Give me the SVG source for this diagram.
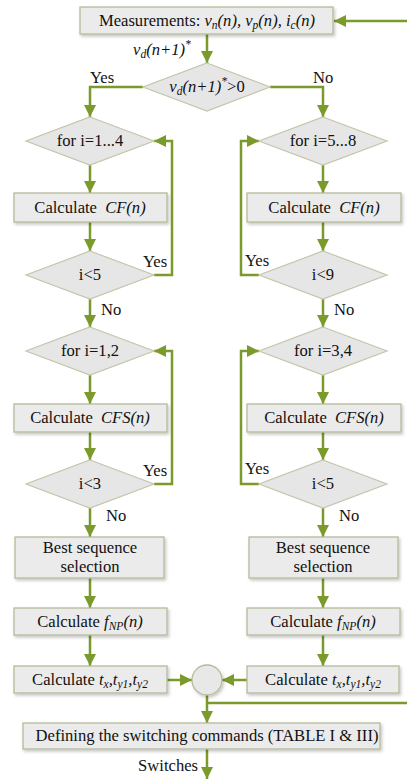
<svg xmlns="http://www.w3.org/2000/svg" width="407" height="781" viewBox="0 0 407 781" font-family="Liberation Serif, Times New Roman, serif" font-size="16.6">
<defs>
<marker id="ah" viewBox="0 0 12 12" markerWidth="12" markerHeight="12" refX="12" refY="6" orient="auto" markerUnits="userSpaceOnUse">
<path d="M0,0 L12,6 L0,12 z" fill="#7a9a2b"/>
</marker>
<filter id="sh" x="-10%" y="-20%" width="125%" height="160%">
<feDropShadow dx="1.5" dy="2" stdDeviation="1.5" flood-color="#000" flood-opacity="0.22"/>
</filter>
</defs>
<style>
.box{fill:#ebebeb;stroke:#b6ba98;stroke-width:1.3;filter:url(#sh)}
.dia{fill:#e6e6e6;stroke:#c3c6aa;stroke-width:1.2}
text{fill:#111}
.c{text-anchor:middle}
.i{font-style:italic}
.ln{fill:none;stroke:#7a9a2b;stroke-width:2.5}
.ar{marker-end:url(#ah)}
</style>
<g id="connectors">
<path class="ln ar" d="M407,21 H334"/>
<path class="ln ar" d="M207,34 V63"/>
<path class="ln ar" d="M143,87 H90 V117"/>
<path class="ln ar" d="M270,87 H323 V117"/>
<path class="ln ar" d="M90,165 V193"/>
<path class="ln ar" d="M90,222 V251"/>
<path class="ln ar" d="M154,275 H172 V141 H154"/>
<path class="ln ar" d="M90,299 V327"/>
<path class="ln ar" d="M90,375 V404"/>
<path class="ln ar" d="M90,432 V460"/>
<path class="ln ar" d="M154,484 H172 V351 H154"/>
<path class="ln ar" d="M90,508 V537"/>
<path class="ln ar" d="M90,578 V608"/>
<path class="ln ar" d="M90,635 V666"/>
<path class="ln ar" d="M323,165 V193"/>
<path class="ln ar" d="M323,222 V251"/>
<path class="ln ar" d="M259,275 H241 V141 H259"/>
<path class="ln ar" d="M323,299 V327"/>
<path class="ln ar" d="M323,375 V404"/>
<path class="ln ar" d="M323,432 V460"/>
<path class="ln ar" d="M259,484 H241 V351 H259"/>
<path class="ln ar" d="M323,508 V537"/>
<path class="ln ar" d="M323,578 V608"/>
<path class="ln ar" d="M323,635 V666"/>
<path class="ln ar" d="M167,680 H192"/>
<path class="ln ar" d="M247,680 H222"/>
<path class="ln ar" d="M207,695 V723"/>
<path class="ln" d="M207,703 H407"/>
<path class="ln ar" d="M207,749 V779"/>
<text class="i" x="133" y="55">v<tspan font-size="11.5" dy="3">d</tspan><tspan dy="-3">(n+1)</tspan><tspan font-size="11.5" dy="-7">*</tspan></text>
<text x="90" y="83">Yes</text>
<text x="313" y="83">No</text>
<text x="143" y="267">Yes</text>
<text x="245" y="266">Yes</text>
<text x="101" y="315">No</text>
<text x="334" y="315">No</text>
<text x="143" y="476">Yes</text>
<text x="245" y="474">Yes</text>
<text x="106" y="521">No</text>
<text x="339" y="521">No</text>
<text x="198" y="771" text-anchor="end">Switches</text>
</g>
<g id="measure">
<rect class="box" x="80" y="7" width="253" height="27"/>
<text class="c" x="207" y="26">Measurements: <tspan class="i">v<tspan font-size="11.5" dy="3">n</tspan><tspan dy="-3">(n), v</tspan><tspan font-size="11.5" dy="3">p</tspan><tspan dy="-3">(n), i</tspan><tspan font-size="11.5" dy="3">c</tspan><tspan dy="-3">(n)</tspan></tspan></text>
</g>
<g id="decision0">
<polygon class="dia" points="207,63 270,87 207,111 143,87"/>
<text class="c i" x="207" y="92">v<tspan font-size="11.5" dy="3">d</tspan><tspan dy="-3">(n+1)</tspan><tspan font-size="11.5" dy="-7">*</tspan><tspan font-style="normal" dy="7">&gt;0</tspan></text>
</g>
<g id="for1">
<polygon class="dia" points="90,117 154,141 90,165 26,141"/>
<text class="c" x="90" y="146">for i=1...4</text>
</g>
<g id="cf1">
<rect class="box" x="14" y="193" width="153" height="29"/>
<text class="c" x="90" y="213">Calculate <tspan class="i" dx="4">CF(n)</tspan></text>
</g>
<g id="lt5a">
<polygon class="dia" points="90,251 154,275 90,299 26,275"/>
<text class="c" x="90" y="280">i&lt;5</text>
</g>
<g id="for12">
<polygon class="dia" points="90,327 154,351 90,375 26,351"/>
<text class="c" x="90" y="356">for i=1,2</text>
</g>
<g id="cfs1">
<rect class="box" x="14" y="404" width="153" height="28"/>
<text class="c" x="90" y="423">Calculate <tspan class="i" dx="4">CFS(n)</tspan></text>
</g>
<g id="lt3">
<polygon class="dia" points="90,460 154,484 90,508 26,484"/>
<text class="c" x="90" y="489">i&lt;3</text>
</g>
<g id="best1">
<rect class="box" x="15" y="537" width="149" height="41"/>
<text class="c" x="90" y="553">Best sequence</text>
<text class="c" x="90" y="572">selection</text>
</g>
<g id="fnp1">
<rect class="box" x="14" y="608" width="153" height="27"/>
<text class="c" x="90" y="627">Calculate <tspan class="i">f<tspan font-size="11.5" dy="3">NP</tspan><tspan dy="-3">(n)</tspan></tspan></text>
</g>
<g id="txy1">
<rect class="box" x="14" y="666" width="153" height="27"/>
<text class="c" x="90" y="685">Calculate <tspan class="i">t<tspan font-size="11.5" dy="3">x</tspan><tspan dy="-3">,t</tspan><tspan font-size="11.5" dy="3">y1</tspan><tspan dy="-3">,t</tspan><tspan font-size="11.5" dy="3">y2</tspan></tspan></text>
</g>
<g id="for2">
<polygon class="dia" points="323,117 387,141 323,165 259,141"/>
<text class="c" x="323" y="146">for i=5...8</text>
</g>
<g id="cf2">
<rect class="box" x="247" y="193" width="154" height="29"/>
<text class="c" x="324" y="213">Calculate <tspan class="i" dx="4">CF(n)</tspan></text>
</g>
<g id="lt9">
<polygon class="dia" points="323,251 387,275 323,299 259,275"/>
<text class="c" x="323" y="280">i&lt;9</text>
</g>
<g id="for34">
<polygon class="dia" points="323,327 387,351 323,375 259,351"/>
<text class="c" x="323" y="356">for i=3,4</text>
</g>
<g id="cfs2">
<rect class="box" x="247" y="404" width="154" height="28"/>
<text class="c" x="324" y="423">Calculate <tspan class="i" dx="4">CFS(n)</tspan></text>
</g>
<g id="lt5b">
<polygon class="dia" points="323,460 387,484 323,508 259,484"/>
<text class="c" x="323" y="489">i&lt;5</text>
</g>
<g id="best2">
<rect class="box" x="249" y="537" width="149" height="41"/>
<text class="c" x="323" y="553">Best sequence</text>
<text class="c" x="323" y="572">selection</text>
</g>
<g id="fnp2">
<rect class="box" x="247" y="608" width="153" height="27"/>
<text class="c" x="323" y="627">Calculate <tspan class="i">f<tspan font-size="11.5" dy="3">NP</tspan><tspan dy="-3">(n)</tspan></tspan></text>
</g>
<g id="txy2">
<rect class="box" x="247" y="666" width="152" height="27"/>
<text class="c" x="323" y="685">Calculate <tspan class="i">t<tspan font-size="11.5" dy="3">x</tspan><tspan dy="-3">,t</tspan><tspan font-size="11.5" dy="3">y1</tspan><tspan dy="-3">,t</tspan><tspan font-size="11.5" dy="3">y2</tspan></tspan></text>
</g>
<g id="junction">
<circle cx="207" cy="680" r="15" fill="#e8e8e8" stroke="#b6ba98" stroke-width="1.3" filter="url(#sh)"/>
</g>
<g id="define">
<rect class="box" x="23" y="723" width="357" height="26"/>
<text class="c" x="207" y="741">Defining the switching commands (TABLE I &amp; III)</text>
</g>
</svg>
